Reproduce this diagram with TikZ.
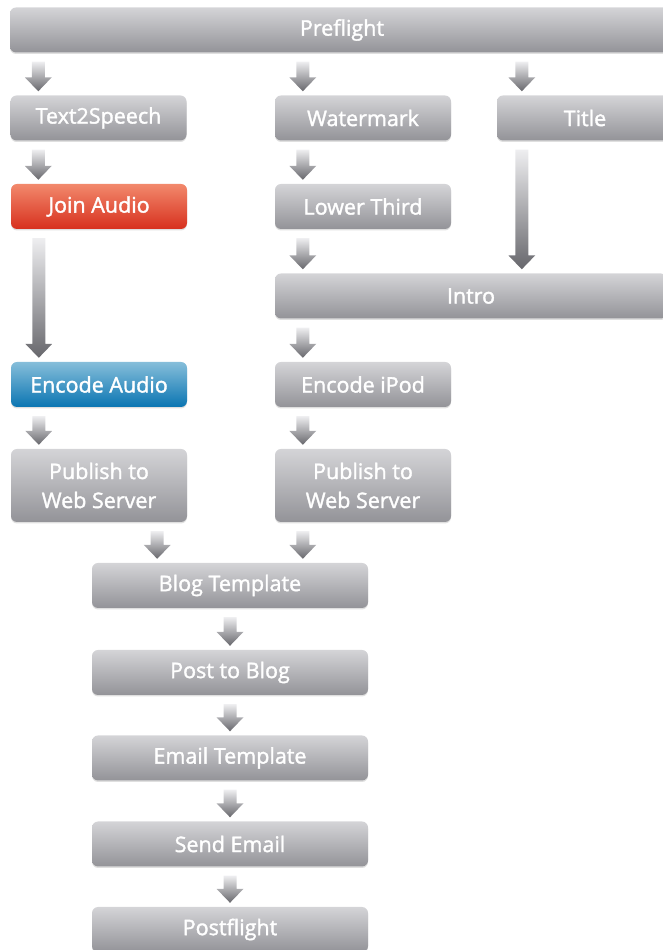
\documentclass[tikz,border=0pt]{standalone}
\usepackage{fontspec}
\setmainfont{Open Sans}[FakeBold=1.6]
\usetikzlibrary{calc,shadows}

\definecolor{boxtop}{HTML}{D4D4D7}
\definecolor{boxbot}{HTML}{939398}
\definecolor{redtop}{HTML}{F2896C}
\definecolor{redbot}{HTML}{D7301E}
\definecolor{bluetop}{HTML}{86BEDA}
\definecolor{bluebot}{HTML}{0A75B2}
\definecolor{arrtop}{HTML}{EEEEF0}
\definecolor{arrbot}{HTML}{67676C}

\tikzset{
  stage/.style={rounded corners=6pt, minimum width=176pt, minimum height=45pt,
    top color=boxtop, bottom color=boxbot, text=white, inner sep=0pt,
    font=\fontsize{21.5}{29}\selectfont, align=center,
    drop shadow={opacity=0.25, shadow xshift=0pt, shadow yshift=-1.5pt}},
  redstage/.style={stage, top color=redtop, bottom color=redbot},
  bluestage/.style={stage, top color=bluetop, bottom color=bluebot},
  tallstage/.style={stage, minimum height=73pt},
}

% shaded block arrow at horizontal position #1, from below node #2 to above node #3
\newcommand\flow[3]{%
  \shade[top color=arrtop, bottom color=arrbot]
    let \p1=#1, \p2=(#2.south), \p3=(#3.north) in
    (\x1-6.5pt,\y2-9pt) -- (\x1+6.5pt,\y2-9pt) -- (\x1+6.5pt,\y3+18pt)
    -- (\x1+13.5pt,\y3+18pt) -- (\x1,\y3+4pt) -- (\x1-13.5pt,\y3+18pt)
    -- (\x1-6.5pt,\y3+18pt) -- cycle;}

\begin{document}
\begin{tikzpicture}[x=1pt,y=1pt]
\useasboundingbox (0,0) rectangle (663,950);
\clip (0,0) rectangle (663,950);

\node[stage, minimum width=664pt] (pre) at (342,920) {Preflight};

\node[stage] (tts) at (98.5,832) {Text2Speech};
\node[stage] (wm) at (363,832) {Watermark};
\node[stage] (title) at (585,832) {Title};

\node[redstage] (join) at (99,743.5) {Join Audio};
\node[stage] (lt) at (363,743.5) {Lower Third};

\node[stage, minimum width=392pt] (intro) at (471,654) {Intro};

\node[bluestage] (enca) at (99,565.5) {Encode Audio};
\node[stage] (enci) at (363,565.5) {Encode iPod};

\node[tallstage] (publ) at (99,464.5) {Publish to\\Web Server};
\node[tallstage] (pubr) at (363,464.5) {Publish to\\Web Server};

\node[stage, minimum width=276pt] (blog) at (230,364.5) {Blog Template};
\node[stage, minimum width=276pt] (post) at (230,277.5) {Post to Blog};
\node[stage, minimum width=276pt] (email) at (230,192) {Email Template};
\node[stage, minimum width=276pt] (send) at (230,106) {Send Email};
\node[stage, minimum width=276pt] (postf) at (230,20.5) {Postflight};

% connectors
\flow{($(tts.west)+(28,0)$)}{pre}{tts}
\flow{($(wm.west)+(28,0)$)}{pre}{wm}
\flow{($(title.west)+(25,0)$)}{pre}{title}

\flow{($(tts.west)+(28,0)$)}{tts}{join}
\flow{($(wm.west)+(28,0)$)}{wm}{lt}
\flow{($(title.west)+(25,0)$)}{title}{intro}

\flow{($(join.west)+(28,0)$)}{join}{enca}
\flow{($(lt.west)+(28,0)$)}{lt}{intro}

\flow{($(enci.west)+(28,0)$)}{intro}{enci}

\flow{($(enca.west)+(28,0)$)}{enca}{publ}
\flow{($(enci.west)+(28,0)$)}{enci}{pubr}

\flow{($(publ.east)+(-30,0)$)}{publ}{blog}
\flow{($(pubr.west)+(28,0)$)}{pubr}{blog}

\flow{(blog.center)}{blog}{post}
\flow{(post.center)}{post}{email}
\flow{(email.center)}{email}{send}
\flow{(send.center)}{send}{postf}
\end{tikzpicture}
\end{document}
